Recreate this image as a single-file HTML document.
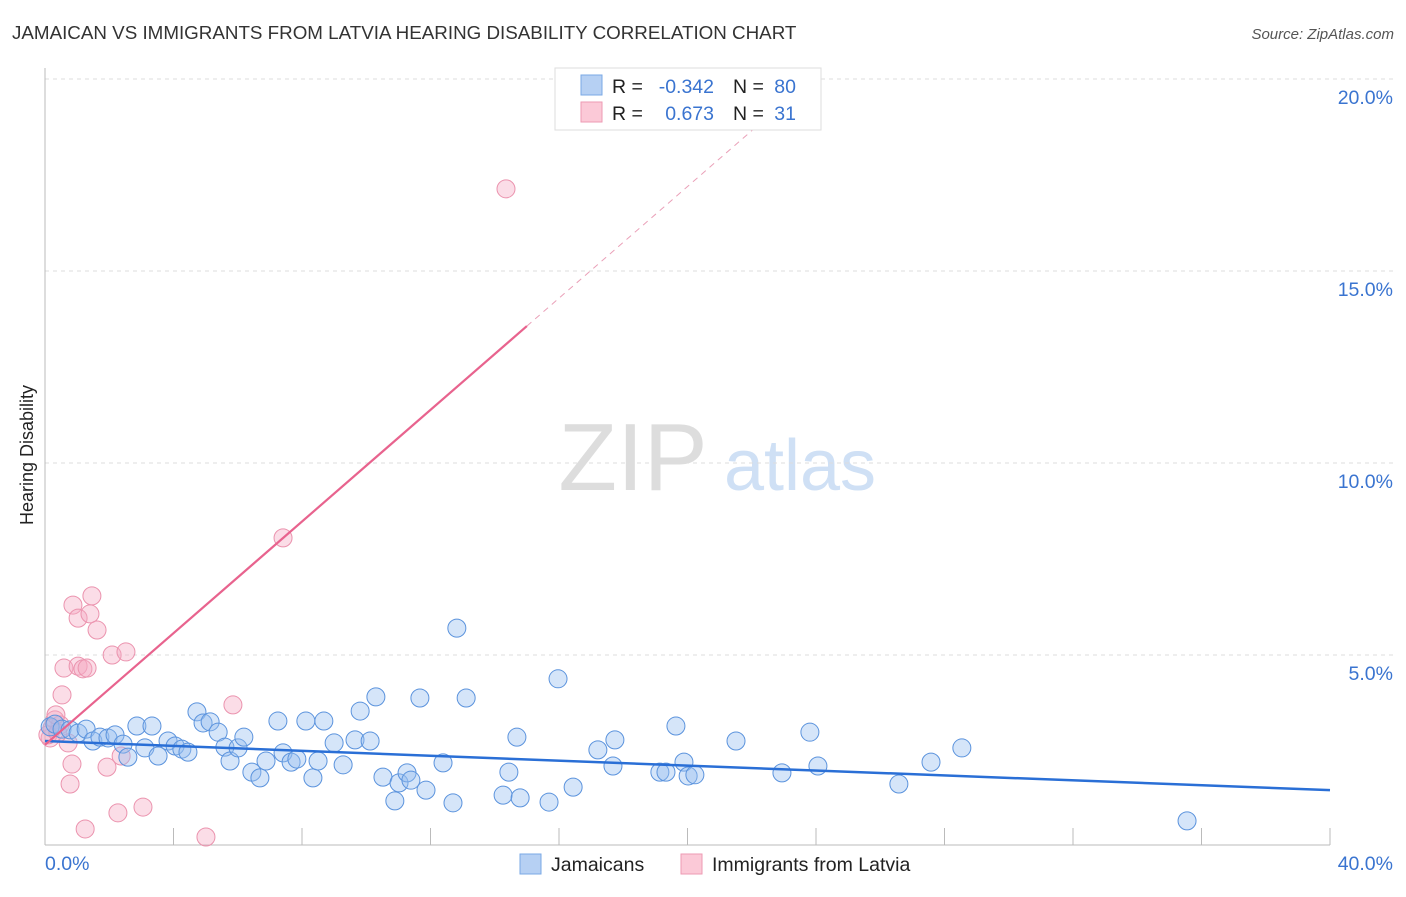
<!DOCTYPE html>
<html><head><meta charset="utf-8"><style>
body{margin:0;background:#fff;font-family:"Liberation Sans",sans-serif}
svg text{font-family:"Liberation Sans",sans-serif}
</style></head><body>
<svg width="1406" height="892" xmlns="http://www.w3.org/2000/svg">
<text x="12" y="39" font-size="18.8" fill="#333">JAMAICAN VS IMMIGRANTS FROM LATVIA HEARING DISABILITY CORRELATION CHART</text>
<text x="1394" y="39" font-size="15" fill="#555" font-style="italic" text-anchor="end">Source: ZipAtlas.com</text>
<g>
<text x="633" y="490" font-size="96" fill="#ddd" font-family="Liberation Serif,serif" text-anchor="middle">ZIP</text>
<text x="800" y="490" font-size="72" fill="#cfe0f5" text-anchor="middle">atlas</text>
</g>
<g id="grid"></g>
<line x1="45" y1="68" x2="45" y2="845" stroke="#bbb"/>
<line x1="45" y1="845" x2="1330" y2="845" stroke="#bbb"/>
<g id="ticks"></g>
<text x="33" y="455" font-size="18" fill="#222" transform="rotate(-90 33 455)" text-anchor="middle">Hearing Disability</text>
<g id="pts"></g>
<g id="lines"></g>
<g>
<rect x="555" y="68" width="266" height="62" fill="#fff" stroke="#ddd"/>
<rect x="581" y="75" width="21" height="20" fill="#b6d0f3" stroke="#7aa8e6"/>
<rect x="581" y="102" width="21" height="20" fill="#fbc9d7" stroke="#ee9ab3"/>
<text x="612" y="93" font-size="19.5" fill="#222">R =</text>
<text x="714" y="93" font-size="19.5" fill="#3a74d0" text-anchor="end">-0.342</text>
<text x="733" y="93" font-size="19.5" fill="#222">N =</text>
<text x="796" y="93" font-size="19.5" fill="#3a74d0" text-anchor="end">80</text>
<text x="612" y="120" font-size="19.5" fill="#222">R =</text>
<text x="714" y="120" font-size="19.5" fill="#3a74d0" text-anchor="end">0.673</text>
<text x="733" y="120" font-size="19.5" fill="#222">N =</text>
<text x="796" y="120" font-size="19.5" fill="#3a74d0" text-anchor="end">31</text>
</g>
<g>
<rect x="520" y="854" width="21" height="20" fill="#b6d0f3" stroke="#7aa8e6"/>
<text x="551" y="871" font-size="19.5" fill="#222">Jamaicans</text>
<rect x="681" y="854" width="21" height="20" fill="#fbc9d7" stroke="#ee9ab3"/>
<text x="712" y="871" font-size="19.5" fill="#222">Immigrants from Latvia</text>
</g>
</svg>
<script>
const blueX=[0.16,0.31,0.53,0.78,1.03,1.28,1.49,1.71,1.96,2.18,2.43,2.58,2.86,3.11,3.33,3.52,3.83,4.05,4.26,4.45,4.73,4.92,5.14,5.39,5.60,5.76,6.01,6.19,6.44,6.69,6.88,7.25,7.41,7.66,7.84,8.12,8.34,8.50,8.68,9.00,9.28,9.65,9.81,10.12,10.30,10.52,10.89,11.02,11.27,11.39,11.67,11.86,12.39,12.70,12.82,13.11,14.26,14.44,14.69,14.79,15.69,15.97,16.44,17.21,17.68,17.74,19.14,19.33,19.64,19.89,20.02,20.23,21.51,22.94,23.81,24.06,26.58,27.58,28.54,35.55];
const blueY=[3.13,3.20,3.07,3.05,2.97,3.07,2.76,2.86,2.84,2.92,2.68,2.34,3.15,2.58,3.15,2.37,2.76,2.63,2.55,2.47,3.52,3.23,3.26,2.99,2.60,2.24,2.58,2.86,1.95,1.80,2.24,3.28,2.45,2.21,2.29,3.28,1.80,2.24,3.28,2.71,2.14,2.79,3.54,2.76,3.91,1.82,1.20,1.67,1.93,1.74,3.88,1.48,2.19,1.15,5.70,3.88,1.35,1.95,2.86,1.28,1.17,4.38,1.56,2.53,2.11,2.79,1.95,1.95,3.15,2.21,1.85,1.88,2.76,1.93,2.99,2.11,1.64,2.21,2.58,0.68];
const pinkX=[0.16,0.31,0.47,0.22,0.53,0.59,0.72,0.78,0.84,0.87,1.03,1.03,1.18,1.25,1.31,1.46,1.40,1.62,1.93,2.09,2.27,2.37,2.52,3.05,5.01,5.85,7.41,14.35,0.34,0.09,0.40];
const pinkY=[2.84,3.31,3.18,3.10,3.96,4.66,2.71,1.64,2.16,6.30,5.96,4.71,4.64,0.47,4.66,6.54,6.07,5.65,2.08,5.00,0.89,2.37,5.08,1.04,0.26,3.70,8.05,17.14,3.44,2.92,2.97];
const yTicks=[5,10,15,20];
const xTicks=[0,4,8,12,16,20,24,28,32,36,40];
const blueTrend=[2.76,1.48];
const pinkTrend=[2.66,0.727];
const NS='http://www.w3.org/2000/svg';
const sx=v=>45+v/40*1285, sy=v=>847-v*38.4;
function mk(t,a,p){const e=document.createElementNS(NS,t);for(const k in a)e.setAttribute(k,a[k]);p.appendChild(e);return e;}
const grid=document.getElementById('grid'),ticks=document.getElementById('ticks');
yTicks.forEach(v=>{
 const l=mk('line',{x1:45,x2:1395,y1:sy(v),y2:sy(v),stroke:'#ddd','stroke-dasharray':'4,4'},grid);
 
 
 const t=mk('text',{x:1393,y:sy(v)+25,'font-size':19.5,fill:'#3a74d0','text-anchor':'end'},grid);
 t.textContent=v.toFixed(1)+'%';
 
 
});
xTicks.forEach(v=>{
 const l=mk('line',{x1:sx(v),x2:sx(v),y1:828,y2:845,stroke:'#bbb'},ticks);
 
 
});
[[0,'start',45],[40,'end',1393]].forEach(([v,a,x])=>{
 const t=mk('text',{x:x,y:870,'font-size':19.5,fill:'#3a74d0','text-anchor':a},ticks);
 t.textContent=v.toFixed(1)+'%';
 
 
});
const pts=document.getElementById('pts');
pinkX.forEach((x,i)=>{
 const c=mk('circle',{cx:sx(x),cy:sy(pinkY[i]),r:9,fill:'rgba(245,170,195,0.4)',stroke:'#eb93ae','stroke-width':1},pts);
 
 
});
blueX.forEach((x,i)=>{
 const c=mk('circle',{cx:sx(x),cy:sy(blueY[i]),r:9,fill:'rgba(150,190,240,0.4)',stroke:'#5b93dd','stroke-width':1},pts);
 
 
});
const lines=document.getElementById('lines');
const bl=mk('line',{x1:sx(0),y1:sy(blueTrend[0]),x2:sx(40),y2:sy(blueTrend[1]),stroke:'#2a6fd6','stroke-width':2.5},lines);


const pf=x=>pinkTrend[0]+pinkTrend[1]*x;
const pl=mk('line',{x1:sx(0),y1:sy(pf(0)),x2:sx(15),y2:sy(pf(15)),stroke:'#e8638e','stroke-width':2.2},lines);


const pd=mk('line',{x1:sx(15),y1:sy(pf(15)),x2:sx(23.5),y2:sy(pf(23.5)),stroke:'#eaa0b8','stroke-width':1,'stroke-dasharray':'6,5'},lines);


</script>
</body></html>
